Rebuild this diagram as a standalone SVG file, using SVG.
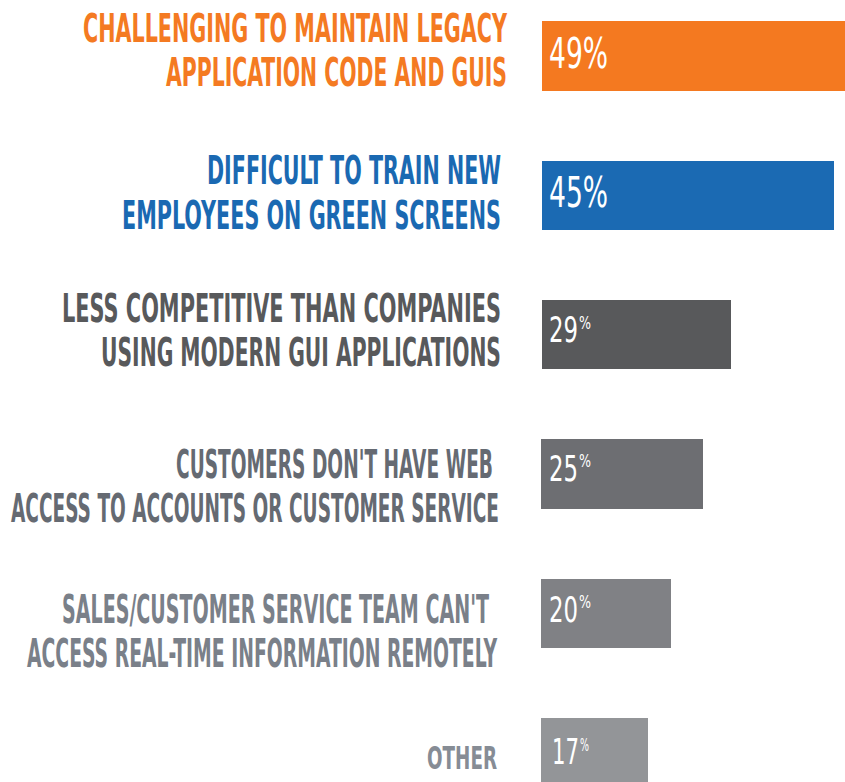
<svg xmlns="http://www.w3.org/2000/svg" width="845" height="782" viewBox="0 0 845 782">
<style>
.lbl{font-family:"DejaVu Sans Condensed","DejaVu Sans",sans-serif;font-weight:bold;font-size:38.5px}
.pct{font-family:"DejaVu Sans Condensed","DejaVu Sans",sans-serif;fill:#fff}
.big{font-size:42.5px}
.num{font-size:36px}
.sup{font-size:17px}
</style>
<rect width="845" height="782" fill="#fff"/>
<g id="row1">
<rect x="542" y="21" width="303" height="70" fill="#F47920"/>
<text class="lbl" fill="#F47A22"><tspan x="83" y="42" textLength="424" lengthAdjust="spacingAndGlyphs">CHALLENGING TO MAINTAIN LEGACY</tspan><tspan x="166" y="86" textLength="341" lengthAdjust="spacingAndGlyphs">APPLICATION CODE AND GUIS</tspan></text>
<text class="pct big" x="549" y="68" textLength="59" lengthAdjust="spacingAndGlyphs">49%</text>
</g>
<g id="row2">
<rect x="542" y="161" width="292" height="69" fill="#1B6AB3"/>
<text class="lbl" fill="#1A69B2"><tspan x="207" y="184" textLength="294" lengthAdjust="spacingAndGlyphs">DIFFICULT TO TRAIN NEW</tspan><tspan x="122" y="229" textLength="379" lengthAdjust="spacingAndGlyphs">EMPLOYEES ON GREEN SCREENS</tspan></text>
<text class="pct big" x="549" y="207" textLength="59" lengthAdjust="spacingAndGlyphs">45%</text>
</g>
<g id="row3">
<rect x="542" y="300" width="189" height="69" fill="#58595B"/>
<text class="lbl" fill="#58595B"><tspan x="62" y="322" textLength="439" lengthAdjust="spacingAndGlyphs">LESS COMPETITIVE THAN COMPANIES</tspan><tspan x="101" y="366" textLength="400" lengthAdjust="spacingAndGlyphs">USING MODERN GUI APPLICATIONS</tspan></text>
<text class="pct num"><tspan x="549" y="342" textLength="29" lengthAdjust="spacingAndGlyphs">29</tspan><tspan class="sup" x="579" y="329" textLength="12" lengthAdjust="spacingAndGlyphs">%</tspan></text>
</g>
<g id="row4">
<rect x="541" y="439" width="162" height="70" fill="#6D6E72"/>
<text class="lbl" fill="#656A72"><tspan x="176" y="478" textLength="317" lengthAdjust="spacingAndGlyphs">CUSTOMERS DON'T HAVE WEB</tspan><tspan x="11" y="522" textLength="488" lengthAdjust="spacingAndGlyphs">ACCESS TO ACCOUNTS OR CUSTOMER SERVICE</tspan></text>
<text class="pct num"><tspan x="549" y="481" textLength="29" lengthAdjust="spacingAndGlyphs">25</tspan><tspan class="sup" x="579" y="467" textLength="12" lengthAdjust="spacingAndGlyphs">%</tspan></text>
</g>
<g id="row5">
<rect x="541" y="579" width="130" height="69" fill="#808185"/>
<text class="lbl" fill="#7A8089"><tspan x="62" y="623" textLength="427" lengthAdjust="spacingAndGlyphs">SALES/CUSTOMER SERVICE TEAM CAN'T</tspan><tspan x="27" y="667" textLength="470" lengthAdjust="spacingAndGlyphs">ACCESS REAL-TIME INFORMATION REMOTELY</tspan></text>
<text class="pct num"><tspan x="549" y="622" textLength="29" lengthAdjust="spacingAndGlyphs">20</tspan><tspan class="sup" x="579" y="608" textLength="12" lengthAdjust="spacingAndGlyphs">%</tspan></text>
</g>
<g id="row6">
<rect x="541" y="718" width="107" height="64" fill="#939598"/>
<text class="lbl" fill="#868C95" style="font-size:32px" x="427" y="769" textLength="70" lengthAdjust="spacingAndGlyphs">OTHER</text>
<text class="pct num"><tspan x="552" y="764" textLength="27" lengthAdjust="spacingAndGlyphs">17</tspan><tspan class="sup" x="580" y="751" textLength="9" lengthAdjust="spacingAndGlyphs">%</tspan></text>
</g>
<g id="connectors"></g>
</svg>
